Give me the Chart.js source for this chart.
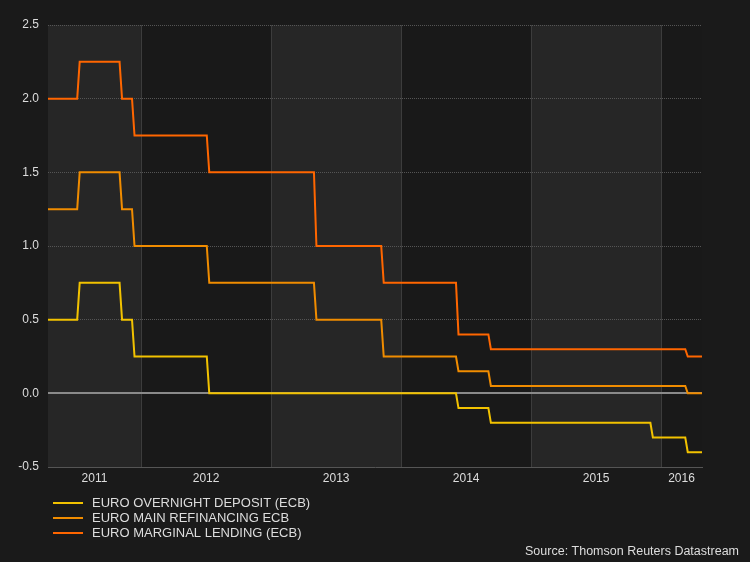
<!DOCTYPE html>
<html>
<head>
<meta charset="utf-8">
<script src="https://cdn.jsdelivr.net/npm/chart.js@4"></script>
<style>
  html, body { margin: 0; padding: 0; background: #1a1a1a; }
  #wrap { width: 750px; height: 562px; }
</style>
</head>
<body>
<div id="wrap"><canvas id="chart" width="750" height="562"></canvas></div>
<script>
// --- data (weekly points around each rate change) ---
const dates = [
  '2011-04-13', '2011-07-06', '2011-07-13', '2011-11-02', '2011-11-09',
  '2011-12-07', '2011-12-14', '2012-07-04', '2012-07-11', '2013-05-01',
  '2013-05-08', '2013-11-06', '2013-11-13', '2014-06-04', '2014-06-11',
  '2014-09-03', '2014-09-10', '2015-12-02', '2015-12-09', '2016-03-09',
  '2016-03-16', '2016-04-25'
];
const depositRate = [0.5, 0.5, 0.75, 0.75, 0.5, 0.5, 0.25, 0.25, 0.0, 0.0, 0.0, 0.0, 0.0, 0.0, -0.1, -0.1, -0.2, -0.2, -0.3, -0.3, -0.4, -0.4];
const refiRate    = [1.25, 1.25, 1.5, 1.5, 1.25, 1.25, 1.0, 1.0, 0.75, 0.75, 0.5, 0.5, 0.25, 0.25, 0.15, 0.15, 0.05, 0.05, 0.05, 0.05, 0.0, 0.0];
const lendingRate = [2.0, 2.0, 2.25, 2.25, 2.0, 2.0, 1.75, 1.75, 1.5, 1.5, 1.0, 1.0, 0.75, 0.75, 0.4, 0.4, 0.3, 0.3, 0.3, 0.3, 0.25, 0.25];
const seriesNames = ['EURO OVERNIGHT DEPOSIT (ECB)', 'EURO MAIN REFINANCING ECB', 'EURO MARGINAL LENDING (ECB)'];
const years = [2011, 2012, 2013, 2014, 2015, 2016];
const yTicks = [-0.5, 0.0, 0.5, 1.0, 1.5, 2.0, 2.5];

const X_MIN = Date.parse('2011-04-15');
const X_MAX = Date.parse('2016-04-25');
const FONT = "'Liberation Sans', Arial, sans-serif";

const pts = vals => dates.map((d, i) => ({ x: Date.parse(d), y: vals[i] }));
const yearStart = y => Date.UTC(y, 0, 1);

// bands, year separators, zero line, legend and source
const decor = {
  id: 'decor',
  beforeDraw(chart) {
    const { ctx, chartArea: a, scales: { x } } = chart;
    ctx.save();
    ctx.fillStyle = '#1a1a1a';
    ctx.fillRect(0, 0, chart.width, chart.height);
    years.forEach((y, i) => {
      const s = Math.max(X_MIN, yearStart(y)), e = Math.min(X_MAX, yearStart(y + 1));
      ctx.fillStyle = i % 2 === 0 ? '#262626' : '#191919';
      const x0 = x.getPixelForValue(s), x1 = x.getPixelForValue(e);
      ctx.fillRect(x0, a.top, x1 - x0, a.bottom - a.top);
    });
    ctx.restore();
  },
  beforeDatasetsDraw(chart) {
    const { ctx, chartArea: a, scales: { x, y } } = chart;
    ctx.save();
    ctx.strokeStyle = '#3c3c3c';
    ctx.lineWidth = 1;
    years.slice(1).forEach(yr => {
      const px = Math.round(x.getPixelForValue(yearStart(yr))) + 0.5;
      ctx.beginPath();
      ctx.moveTo(px, a.top);
      ctx.lineTo(px, a.bottom);
      ctx.stroke();
    });
    ctx.strokeStyle = '#8a8a8a';
    ctx.lineWidth = 2;
    const zy = Math.round(y.getPixelForValue(0));
    ctx.beginPath();
    ctx.moveTo(a.left, zy);
    ctx.lineTo(a.right, zy);
    ctx.stroke();
    ctx.restore();
  },
  afterDraw(chart) {
    const { ctx } = chart;
    ctx.save();
    ctx.font = '13px ' + FONT;
    ctx.textBaseline = 'middle';
    chart.data.datasets.forEach((ds, i) => {
      const ly = 503 + i * 15;
      ctx.strokeStyle = ds.borderColor;
      ctx.lineWidth = 2;
      ctx.beginPath();
      ctx.moveTo(53, ly);
      ctx.lineTo(83, ly);
      ctx.stroke();
      ctx.fillStyle = '#dddddd';
      ctx.textAlign = 'left';
      ctx.fillText(ds.label, 92, ly);
    });
    ctx.font = '12.5px ' + FONT;
    ctx.textAlign = 'right';
    ctx.fillText('Source: Thomson Reuters Datastream', 739, 552);
    ctx.restore();
  }
};

new Chart(document.getElementById('chart'), {
  type: 'line',
  data: {
    datasets: [
      { label: seriesNames[0], data: pts(depositRate), borderColor: '#f2c200' },
      { label: seriesNames[1], data: pts(refiRate), borderColor: '#f08c00' },
      { label: seriesNames[2], data: pts(lendingRate), borderColor: '#ff6600' }
    ].map(d => Object.assign(d, { borderWidth: 2, pointRadius: 0, tension: 0, fill: false }))
  },
  options: {
    responsive: false,
    animation: false,
    layout: { padding: { left: 0, right: 48, top: 25, bottom: 0 } },
    plugins: { legend: { display: false }, tooltip: { enabled: false } },
    scales: {
      x: {
        type: 'linear',
        min: X_MIN,
        max: X_MAX,
        afterFit(s) { s.height = 95; },
        afterBuildTicks(s) {
          s.ticks = years.map(y => {
            const st = Math.max(X_MIN, yearStart(y)), en = Math.min(X_MAX, yearStart(y + 1));
            return { value: (st + en) / 2, label: String(y) };
          });
        },
        ticks: {
          color: '#dddddd', font: { family: FONT, size: 12 }, padding: 4, maxRotation: 0, autoSkip: false,
          callback: (v) => String(new Date(v).getUTCFullYear())
        },
        grid: { display: false, drawTicks: false },
        border: { display: true, color: '#555555', dash: [1, 1] }
      },
      y: {
        min: -0.5,
        max: 2.5,
        afterFit(s) { s.width = 48; },
        afterBuildTicks(s) { s.ticks = yTicks.map(v => ({ value: v })); },
        ticks: {
          color: '#dddddd', font: { family: FONT, size: 12 }, padding: 9,
          callback: v => v.toFixed(1)
        },
        grid: { color: '#555555', drawTicks: false, lineWidth: 1 },
        border: { display: false, dash: [1, 1] }
      }
    }
  },
  plugins: [decor]
});
</script>
</body>
</html>
